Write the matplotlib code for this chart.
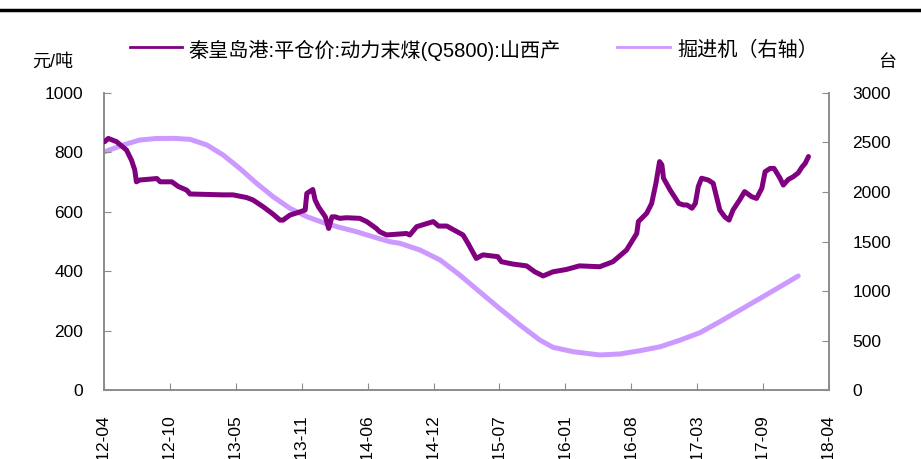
import matplotlib
matplotlib.use("Agg")
import matplotlib.pyplot as plt
import matplotlib.dates as mdates
from matplotlib.lines import Line2D
import numpy as np
import pandas as pd

plt.rcParams['font.family'] = ['Liberation Sans', 'Noto Sans CJK SC', 'DejaVu Sans']

# 秦皇岛港平仓价：动力末煤(Q5800)：山西产（元/吨）
price_dates = [
    "2012-04-03", "2012-04-14", "2012-05-09", "2012-06-08", "2012-06-23", "2012-07-03",
    "2012-07-08", "2012-07-18", "2012-09-08", "2012-09-18", "2012-10-23", "2012-11-12",
    "2012-12-07", "2012-12-17", "2013-03-27", "2013-04-26", "2013-06-06", "2013-06-25",
    "2013-07-26", "2013-08-25", "2013-09-15", "2013-09-24", "2013-10-15", "2013-11-15",
    "2013-11-30", "2013-12-05", "2013-12-23", "2013-12-30", "2014-01-09", "2014-01-30",
    "2014-02-09", "2014-02-19", "2014-03-01", "2014-03-14", "2014-04-04", "2014-05-14",
    "2014-06-04", "2014-07-03", "2014-07-13", "2014-08-03", "2014-10-02", "2014-10-12",
    "2014-11-02", "2014-12-22", "2015-01-07", "2015-02-01", "2015-03-22", "2015-04-06",
    "2015-05-01", "2015-05-21", "2015-07-05", "2015-07-16", "2015-08-20", "2015-09-30",
    "2015-10-25", "2015-11-19", "2015-12-19", "2016-01-29", "2016-03-08", "2016-05-08",
    "2016-06-17", "2016-07-28", "2016-08-28", "2016-09-02", "2016-09-27", "2016-10-12",
    "2016-10-25", "2016-11-05", "2016-11-12", "2016-11-17", "2016-12-07", "2017-01-02",
    "2017-01-17", "2017-01-27", "2017-02-11", "2017-02-21", "2017-03-02", "2017-03-12",
    "2017-04-01", "2017-04-16", "2017-04-26", "2017-05-06", "2017-05-21", "2017-06-03",
    "2017-06-15", "2017-07-05", "2017-07-20", "2017-08-10", "2017-08-25", "2017-09-10",
    "2017-09-20", "2017-10-05", "2017-10-17", "2017-11-04", "2017-11-14", "2017-11-29",
    "2017-12-14", "2017-12-29", "2018-01-09", "2018-01-19", "2018-01-29",
]
price_values = [
    836, 847, 836, 808, 774, 741,
    701, 707, 712, 701, 701, 685,
    673, 660, 657, 657, 648, 640,
    617, 592, 572, 572, 589, 600,
    606, 662, 675, 640, 617, 583,
    544, 583, 583, 578, 580, 578,
    567, 544, 533, 522, 527, 522,
    550, 567, 552, 552, 522, 494,
    443, 455, 449, 432, 424, 418,
    398, 384, 398, 406, 418, 415,
    432, 471, 527, 567, 595, 628,
    696, 769, 758, 713, 673, 628,
    623, 623, 612, 628, 685, 713,
    707, 696, 651, 606, 583, 572,
    606, 640, 668, 651, 645, 679,
    735, 746, 746, 713, 690, 709,
    718, 731, 750, 763, 786,
]

# 掘进机产量（台，右轴）
machine_dates = [
    "2012-04-01", "2012-05-29", "2012-07-18", "2012-09-05", "2012-10-27", "2012-12-17",
    "2013-02-06", "2013-03-27", "2013-05-16", "2013-07-06", "2013-08-25", "2013-10-15",
    "2013-12-05", "2014-01-24", "2014-03-14", "2014-05-04", "2014-06-23", "2014-08-13",
    "2014-09-12", "2014-11-12", "2015-01-12", "2015-03-12", "2015-05-11", "2015-07-10",
    "2015-09-10", "2015-11-09", "2015-12-19", "2016-02-18", "2016-05-08", "2016-07-08",
    "2016-09-07", "2016-11-07", "2017-01-07", "2017-03-07", "2017-05-06", "2017-07-06",
    "2017-09-05", "2017-11-04", "2017-12-29",
]
machine_values = [
    2404, 2475, 2525, 2540, 2542, 2532,
    2475, 2374, 2239, 2088, 1953, 1835,
    1751, 1690, 1643, 1599, 1548, 1498,
    1482, 1414, 1313, 1162, 993, 825,
    657, 505, 431, 387, 354, 364,
    397, 437, 505, 579, 690, 808,
    926, 1043, 1152,
]

tick_labels = ["2012-04", "2012-10", "2013-05", "2013-11", "2014-06", "2014-12",
               "2015-07", "2016-01", "2016-08", "2017-03", "2017-09", "2018-04"]

legend_labels = ["秦皇岛港:平仓价:动力末煤(Q5800):山西产", "掘进机（右轴）"]

price_x = mdates.date2num(pd.to_datetime(price_dates))
machine_x = mdates.date2num(pd.to_datetime(machine_dates))

fig = plt.figure(figsize=(9.21, 4.59), dpi=100)
ax = fig.add_axes([0.1129, 0.1503, 0.7872, 0.6471])
ax2 = ax.twinx()

dark = "#800080"
light = "#CC99FF"
grey = "#8C8C8C"

ax2.plot(machine_x, machine_values, color=light, lw=3.6,
         solid_capstyle='round', solid_joinstyle='round', zorder=2)
ax.plot(price_x, price_values, color=dark, lw=3.6,
        solid_capstyle='round', solid_joinstyle='round', zorder=3)
ax.set_zorder(ax2.get_zorder() + 1)
ax.patch.set_visible(False)

x0 = mdates.date2num(pd.Timestamp("2012-04-01"))
x1 = mdates.date2num(pd.Timestamp("2018-04-01"))
ax.set_xlim(x0, x1)
ax.set_xticks(np.linspace(x0, x1, len(tick_labels)))
ax.set_xticklabels(tick_labels, rotation=90, va='top', ha='center')

ax.set_ylim(0, 1000)
ax.set_yticks(np.arange(0, 1001, 200))
ax2.set_ylim(0, 3000)
ax2.set_yticks(np.arange(0, 3001, 500))

for a in (ax, ax2):
    a.spines['top'].set_visible(False)
    for s in ('left', 'right', 'bottom'):
        a.spines[s].set_color(grey)
        a.spines[s].set_linewidth(1.2)

ax.tick_params(axis='x', direction='in', length=5, color=grey, labelsize=12.5, pad=18)
ax.tick_params(axis='y', direction='in', length=5, color=grey, labelsize=12.5, pad=15)
ax2.tick_params(axis='y', direction='in', length=5, color=grey, labelsize=12.5, pad=17)

# axis unit captions
fig.text(32 / 921, 1 - 62 / 459, "元/吨", fontsize=13, ha='left', va='center')
fig.text(878 / 921, 1 - 62 / 459, "台", fontsize=13, ha='left', va='center')

# legend drawn in figure pixels
W, H = 921, 459
leg_y = 1 - 47 / H
for (lx0, lx1, tx), col, lab in zip([(130, 182, 188), (617, 670, 677)],
                                    [dark, light], legend_labels):
    fig.add_artist(Line2D([lx0 / W, lx1 / W], [leg_y, leg_y],
                          transform=fig.transFigure, color=col, lw=2))
    fig.text(tx / W, 1 - 50 / H, lab, fontsize=14.5, ha='left', va='center')

# top rule
fig.add_artist(Line2D([0, 1], [1 - 10 / H, 1 - 10 / H], transform=fig.transFigure,
                      color='black', lw=2.5))

fig.savefig("out.png", dpi=100)
